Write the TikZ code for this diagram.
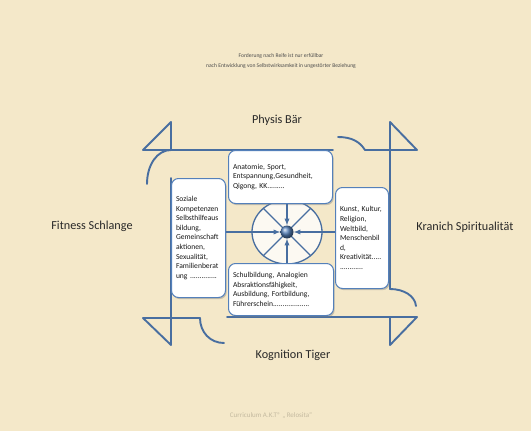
\documentclass[tikz,border=0pt]{standalone}
\usepackage{fontspec}
\setmainfont{Carlito}
\usetikzlibrary{shapes,calc,shadows}

\definecolor{parchment}{RGB}{244,232,201}
\definecolor{armblue}{RGB}{72,110,160}
\definecolor{boxblue}{RGB}{84,128,186}
\definecolor{labelgray}{RGB}{40,40,40}
\definecolor{faintgray}{RGB}{196,186,160}

\tikzset{
  arm/.style={armblue, line width=1.9pt, line cap=round, line join=round},
  spoke/.style={armblue, line width=1.3pt},
  areabox/.style={draw=boxblue, line width=1pt, fill=white, rounded corners=7pt,
    drop shadow={opacity=0.4, shadow xshift=1.2pt, shadow yshift=-1.6pt},
    anchor=north west, align=left, inner xsep=4.5pt, inner ysep=2pt,
    font=\fontsize{7.6}{9.6}\selectfont, text=black!90},
  animal/.style={font=\fontsize{12.2}{14}\selectfont, text=labelgray},
}

\begin{document}
\begin{tikzpicture}[x=1pt,y=-1pt]
	\fill[parchment] (0,0) rectangle (531,431);
	\useasboundingbox (0,0) rectangle (531,431);
	
	% Eckpunkte der Arme
	\coordinate (TLtip) at (143,150);
	\coordinate (TLtop) at (171,122);
	\coordinate (TLend) at (333,150);
	\coordinate (TRarc) at (338,137);
	\coordinate (TRjoin) at (365,150);
	\coordinate (TRtip) at (417,150);
	\coordinate (TRtop) at (390,122);
	\coordinate (Rarc) at (390,289);
	\coordinate (Rend) at (416,306);
	\coordinate (Ltop) at (171,178);
	\coordinate (Larc) at (171,150);
	\coordinate (Lend) at (147,184);
	\coordinate (BLtip) at (143,318);
	\coordinate (BLjoin) at (200,318);
	\coordinate (BLend) at (224,343);
	\coordinate (BLbot) at (171,345);
	\coordinate (BRstart) at (227,317);
	\coordinate (BRtip) at (417,317);
	\coordinate (BRbot) at (390,345);
	
	% oben
	\draw[arm] (TLtip) -- (TLend);
	\draw[arm] (TLtip) -- (TLtop) -- (TLtop |- TLtip);
	\draw[arm] (Larc) .. controls (157,150) and (147,165) .. (Lend);
	\draw[arm] (TRarc) .. controls (352,137) and (360,142) .. (TRjoin) -- (TRtip);
	\draw[arm] (TRtip) -- (TRtop);
	% rechts
	\draw[arm] (TRtop) -- (Rarc);
	\draw[arm] (Rarc) .. controls (404,289) and (415,296) .. (Rend);
	% links
	\draw[arm] (Ltop) -- (BLbot);
	\draw[arm] (BLtip) -- (BLbot);
	\draw[arm] (BLtip) -- (BLjoin);
	\draw[arm] (BLjoin) .. controls (200,332) and (210,343) .. (BLend);
	% unten
	\draw[arm] (BRstart) -- (BRtip) -- (BRbot) -- (BRbot |- BRtip);
	
	% Mitte
	\node[ellipse, draw=armblue, line width=1.3pt, fill=white!75!parchment,
	  minimum width=70pt, minimum height=64pt, inner sep=0pt] (ring) at (287,232) {};
	\draw[spoke] (ring.center) -- (ring.45);
	\draw[spoke] (ring.center) -- (ring.135);
	\draw[spoke] (ring.center) -- (ring.225);
	\draw[spoke] (ring.center) -- (ring.315);
	
	% Kaesten
	\node[areabox, text width=95pt, minimum height=53pt] (physbox) at (228,150)
	  {Anatomie, Sport,\\Entspannung,Gesundheit,\\Qigong, KK.........};
	\node[areabox, text width=45pt, minimum height=119pt] (fitbox) at (171,178)
	  {Soziale\\Kompetenzen\\Selbsthilfeaus\\bildung,\\Gemeinschaft\\aktionen,\\Sexualität,\\Familienberat\\ung ..............};
	\node[areabox, text width=44pt, minimum height=101pt] (kranbox) at (335,187)
	  {Kunst, Kultur,\\Religion,\\Weltbild,\\Menschenbil\\d,\\Kreativität.....\\............};
	\node[areabox, text width=96pt, minimum height=52pt] (kogbox) at (228,263)
	  {Schulbildung, Analogien\\Absraktionsfähigkeit,\\Ausbildung, Fortbildung,\\Führerschein...................};
	
	\node[circle, inner sep=0pt, minimum size=13pt, ball color=boxblue] (hub) at (ring.center) {};
	\draw[spoke,-latex] (fitbox.east |- hub) -- (hub.west);
	\draw[spoke,-latex] (kranbox.west |- hub) -- (hub.east);
	\draw[spoke,-latex] (physbox.south -| hub) -- (hub.north);
	\draw[spoke,-latex] (kogbox.north -| hub) -- (hub.south);
	
	% Beschriftung
	\node[animal] (physis) at (277,120) {Physis Bär};
	\node[animal] (fitness) at (92,226) {Fitness Schlange};
	\node[animal] (kranich) at (465,227) {Kranich Spiritualität};
	\node[animal] (kognition) at (293,355) {Kognition Tiger};
	\node[align=center, text=black!70, font=\fontsize{5.6}{9.6}\selectfont] (motto) at (281,61)
	  {Forderung nach Reife ist nur erfüllbar\\nach Entwicklung von Selbstwirksamkeit in ungestörter Beziehung};
	\node[text=faintgray, font=\fontsize{7}{8}\selectfont] (curric) at (271,415) {Curriculum A.K.T® „ Relosita“};
\end{tikzpicture}
\end{document}
